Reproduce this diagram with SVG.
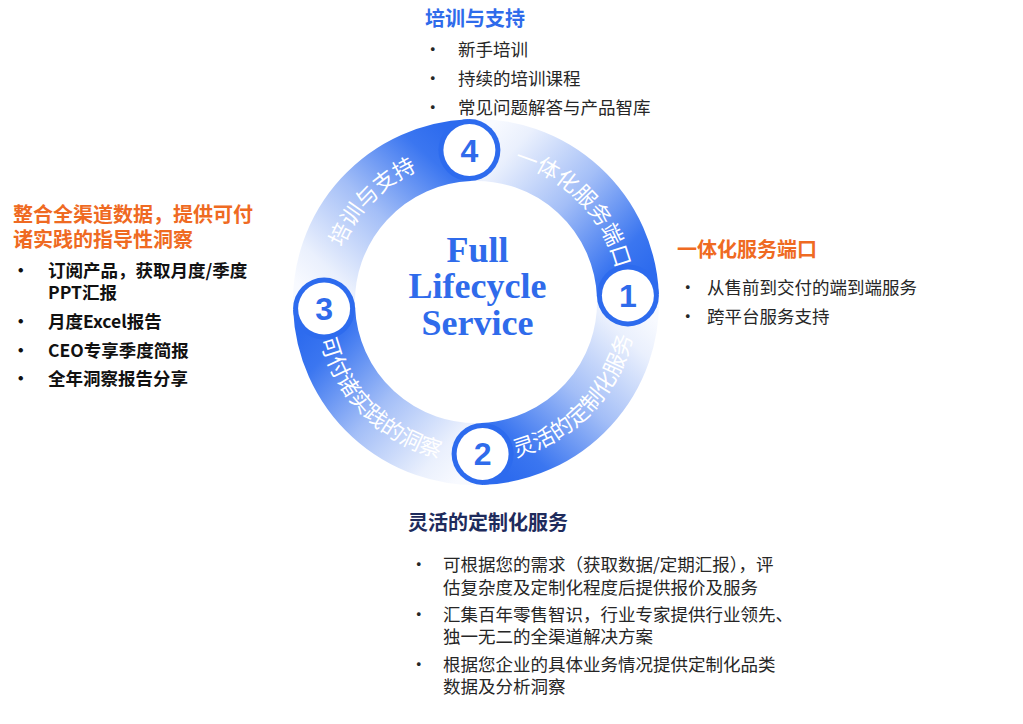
<svg xmlns="http://www.w3.org/2000/svg" width="1023" height="724" viewBox="0 0 1023 724">
<style>
.cjk{font-family:"Noto Sans CJK SC","Noto Sans",sans-serif}
.t20b{font-size:20px;font-weight:bold}
.body{font-size:17.5px;fill:#262626}
.bodyb{font-size:17.5px;fill:#111;font-weight:bold}
.orange{fill:#EF6A22}
.blue{fill:#2F6BEB}
.navy{fill:#1E2B5C}
.ringtxt{font-size:22px;fill:#ffffff}
.num{font-family:"Liberation Sans",Arial,sans-serif;font-weight:bold;font-size:32px;fill:#2F6BEB;text-anchor:middle}
.center{font-family:"Liberation Serif","Times New Roman",serif;font-weight:bold;font-size:36px;fill:#2F6BEB;text-anchor:middle}
.seg{fill:none;stroke-width:62}
.rim{fill:#2D6BEE}
.hole{fill:#ffffff}
</style>
<defs>
<linearGradient id="gA" gradientUnits="userSpaceOnUse" x1="627.9" y1="295.4" x2="469.4" y2="150.1">
<stop offset="0" stop-color="#2D6BEE"/><stop offset="0.15" stop-color="#3B76F0"/><stop offset="0.5" stop-color="#A3BEF7"/><stop offset="0.85" stop-color="#EAF0FD"/><stop offset="1" stop-color="#F8FAFF"/>
</linearGradient>
<linearGradient id="gB" gradientUnits="userSpaceOnUse" x1="469.4" y1="150.1" x2="324.1" y2="308.6">
<stop offset="0" stop-color="#2D6BEE"/><stop offset="0.15" stop-color="#3B76F0"/><stop offset="0.5" stop-color="#A3BEF7"/><stop offset="0.85" stop-color="#EAF0FD"/><stop offset="1" stop-color="#F8FAFF"/>
</linearGradient>
<linearGradient id="gC" gradientUnits="userSpaceOnUse" x1="324.1" y1="308.6" x2="482.6" y2="453.9">
<stop offset="0" stop-color="#2D6BEE"/><stop offset="0.15" stop-color="#3B76F0"/><stop offset="0.5" stop-color="#A3BEF7"/><stop offset="0.85" stop-color="#EAF0FD"/><stop offset="1" stop-color="#F8FAFF"/>
</linearGradient>
<linearGradient id="gD" gradientUnits="userSpaceOnUse" x1="482.6" y1="453.9" x2="627.9" y2="295.4">
<stop offset="0" stop-color="#2D6BEE"/><stop offset="0.15" stop-color="#3B76F0"/><stop offset="0.5" stop-color="#A3BEF7"/><stop offset="0.85" stop-color="#EAF0FD"/><stop offset="1" stop-color="#F8FAFF"/>
</linearGradient>
<path id="p1" d="M 441.16 162.28 A 144 144 0 0 1 614.42 341.69"/>
<path id="p2" d="M 437.29 457.25 A 160 160 0 0 0 629.80 257.90"/>
<path id="p3" d="M 321.45 260.59 A 160 160 0 0 0 517.41 456.55"/>
<path id="p4" d="M 337.58 341.69 A 144 144 0 0 1 510.84 162.28"/>
</defs>
<rect width="1023" height="724" fill="#ffffff"/>

<g id="connectors">
<path class="seg" stroke="url(#gA)" d="M 627.9 295.4 A 152 152 0 0 0 469.4 150.1"/>
<path class="seg" stroke="url(#gB)" d="M 469.4 150.1 A 152 152 0 0 0 324.1 308.6"/>
<path class="seg" stroke="url(#gC)" d="M 324.1 308.6 A 152 152 0 0 0 482.6 453.9"/>
<path class="seg" stroke="url(#gD)" d="M 482.6 453.9 A 152 152 0 0 0 627.9 295.4"/>
<text class="cjk ringtxt"><textPath href="#p1" startOffset="50%" text-anchor="middle">一体化服务端口</textPath></text>
<text class="cjk ringtxt"><textPath href="#p2" startOffset="50%" text-anchor="middle">灵活的定制化服务</textPath></text>
<text class="cjk ringtxt"><textPath href="#p3" startOffset="50%" text-anchor="middle">可付诸实践的洞察</textPath></text>
<text class="cjk ringtxt"><textPath href="#p4" startOffset="50%" text-anchor="middle">培训与支持</textPath></text>
</g>

<g id="step1">
<circle class="rim" cx="627.9" cy="295.4" r="31"/><circle class="hole" cx="627.9" cy="295.4" r="26"/>
<text class="num" x="627.9" y="306.9">1</text>
</g>
<g id="step2">
<circle class="rim" cx="482.6" cy="453.9" r="31"/><circle class="hole" cx="482.6" cy="453.9" r="26"/>
<text class="num" x="482.6" y="465.4">2</text>
</g>
<g id="step3">
<circle class="rim" cx="324.1" cy="308.6" r="31"/><circle class="hole" cx="324.1" cy="308.6" r="26"/>
<text class="num" x="324.1" y="320.1">3</text>
</g>
<g id="step4">
<circle class="rim" cx="469.4" cy="150.1" r="31"/><circle class="hole" cx="469.4" cy="150.1" r="26"/>
<text class="num" x="469.4" y="161.6">4</text>
</g>

<g id="center-title">
<text class="center" x="477.5" y="262">Full</text>
<text class="center" x="477.5" y="298">Lifecycle</text>
<text class="center" x="477.5" y="335">Service</text>
</g>

<g id="panel-training">
<text class="cjk t20b blue" x="425" y="26">培训与支持</text>
<text class="cjk body" x="424" y="56">•</text><text class="cjk body" x="458" y="56">新手培训</text>
<text class="cjk body" x="424" y="85">•</text><text class="cjk body" x="458" y="85">持续的培训课程</text>
<text class="cjk body" x="424" y="114">•</text><text class="cjk body" x="458" y="114">常见问题解答与产品智库</text>
</g>

<g id="panel-portal">
<text class="cjk t20b orange" x="677" y="257">一体化服务端口</text>
<text class="cjk body" x="679" y="294">•</text><text class="cjk body" x="707" y="294">从售前到交付的端到端服务</text>
<text class="cjk body" x="679" y="323">•</text><text class="cjk body" x="707" y="323">跨平台服务支持</text>
</g>

<g id="panel-insight">
<text class="cjk t20b orange" x="13" y="222">整合全渠道数据，提供可付</text>
<text class="cjk t20b orange" x="13" y="247">诸实践的指导性洞察</text>
<text class="cjk bodyb" x="12" y="277">•</text><text class="cjk bodyb" x="48" y="277">订阅产品，获取月度/季度</text>
<text class="cjk bodyb" x="48" y="299">PPT汇报</text>
<text class="cjk bodyb" x="12" y="328">•</text><text class="cjk bodyb" x="48" y="328">月度Excel报告</text>
<text class="cjk bodyb" x="12" y="357">•</text><text class="cjk bodyb" x="48" y="357">CEO专享季度简报</text>
<text class="cjk bodyb" x="12" y="385">•</text><text class="cjk bodyb" x="48" y="385">全年洞察报告分享</text>
</g>

<g id="panel-custom">
<text class="cjk t20b navy" x="408" y="530">灵活的定制化服务</text>
<text class="cjk body" x="410" y="571" font-size="12">•</text><text class="cjk body" x="443" y="571">可根据您的需求（获取数据/定期汇报），评</text>
<text class="cjk body" x="443" y="594">估复杂度及定制化程度后提供报价及服务</text>
<text class="cjk body" x="410" y="621" font-size="12">•</text><text class="cjk body" x="443" y="621">汇集百年零售智识，行业专家提供行业领先、</text>
<text class="cjk body" x="443" y="643">独一无二的全渠道解决方案</text>
<text class="cjk body" x="410" y="671" font-size="12">•</text><text class="cjk body" x="443" y="671">根据您企业的具体业务情况提供定制化品类</text>
<text class="cjk body" x="443" y="693">数据及分析洞察</text>
</g>
</svg>
